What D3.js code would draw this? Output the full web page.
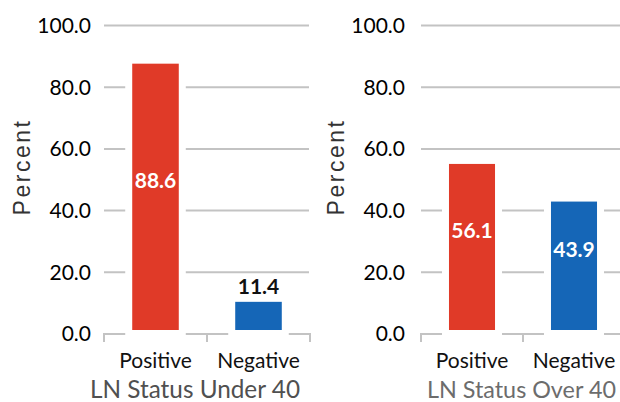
<!DOCTYPE html>
<html>
<head>
<meta charset="utf-8">
<script src="https://cdn.jsdelivr.net/npm/d3@7"></script>
<style>
  html, body { margin: 0; padding: 0; background: #fff; }
  svg { display: block; }
</style>
</head>
<body>
<svg id="chart" width="620" height="402"></svg>
<script>
const categories = ["Positive", "Negative"];
const under40Values = [88.6, 11.4];
const over40Values = [56.1, 43.9];
const tickValues = [0, 20, 40, 60, 80, 100];
const panelTitles = ["LN Status Under 40", "LN Status Over 40"];
const barColors = ["#E03A28", "#1566B7"];
const yLabel = "Percent";

const svg = d3.select("#chart");
const FONT = "Lato, 'Open Sans', sans-serif";

const y = d3.scaleLinear().domain([0, 100]).range([333.5, 25]);

function drawPanel(opts) {
  const g = svg.append("g");
  const x = d3.scaleBand().domain(categories).range(opts.xRange)
    .paddingInner(0.48).paddingOuter(0.24);

  // gridlines
  const grid = d3.axisLeft(y).tickValues(tickValues.filter(t => t > 0))
    .tickSize(-(opts.gridEnd - opts.xRange[0])).tickFormat("");
  g.append("g").attr("transform", `translate(${opts.xRange[0]},0)`).call(grid)
    .call(s => s.select(".domain").remove())
    .call(s => s.selectAll("line").attr("stroke", "#c3c3c3").attr("stroke-width", 2));

  // tick labels
  const yAxis = d3.axisLeft(y).tickValues(tickValues).tickSize(0).tickPadding(0)
    .tickFormat(d3.format(".1f"));
  g.append("g").attr("transform", `translate(${opts.labelRight},0)`).call(yAxis)
    .call(s => s.select(".domain").remove())
    .call(s => s.selectAll("text").attr("font-family", FONT).attr("font-size", 21)
      .attr("fill", "#000").attr("dy", "0.35em"));

  // x axis
  const xAxis = d3.axisBottom(x).tickSize(0).tickFormat(d => d);
  const xg = g.append("g").attr("transform", `translate(0,334)`).call(xAxis);
  xg.select(".domain").attr("stroke", "#c3c3c3").attr("stroke-width", 2)
    .attr("d", `M${opts.xRange[0]},8V0H${opts.axisEnd}V8`);
  xg.selectAll(".tick text").attr("font-family", FONT).attr("font-size", 21)
    .attr("fill", "#111").attr("y", 34).attr("dy", 0);
  // category separator ticks
  const step = x.step();
  const sepTicks = d3.range(opts.xRange[0] + step, opts.axisEnd + 1, step);
  xg.selectAll(".sep").data(sepTicks).join("line")
    .attr("x1", d => d).attr("x2", d => d).attr("y1", 0).attr("y2", 8)
    .attr("stroke", "#c3c3c3").attr("stroke-width", 2);

  // bars
  g.selectAll(".bar").data(opts.values).join("rect")
    .attr("x", (d, i) => x(categories[i]))
    .attr("width", x.bandwidth())
    .attr("y", d => y(d))
    .attr("height", d => y(0) - y(d))
    .attr("fill", (d, i) => barColors[i])
    .attr("stroke", "#fff").attr("stroke-width", 7);

  // value labels
  g.selectAll(".val").data(opts.values).join("text")
    .attr("x", (d, i) => x(categories[i]) + x.bandwidth() / 2)
    .attr("y", d => d > 20 ? y(d / 2) - 16 : y(d) - 4)
    .attr("dy", d => d > 20 ? "0.35em" : "0")
    .attr("text-anchor", "middle")
    .attr("font-family", FONT).attr("font-weight", "bold").attr("font-size", 21)
    .attr("fill", d => d > 20 ? "#fff" : "#111")
    .text(d => d3.format(".1f")(d));

  // y label
  g.append("text")
    .attr("transform", `translate(${opts.yLabelX},167) rotate(-90)`)
    .attr("text-anchor", "middle")
    .attr("font-family", "'Liberation Sans', Arial, sans-serif")
    .attr("font-size", 23).attr("letter-spacing", 2.5).attr("fill", "#333")
    .text(yLabel);

  // panel title
  g.append("text")
    .attr("x", opts.titleX).attr("y", 398)
    .attr("font-family", FONT).attr("font-size", opts.titleSize)
    .attr("textLength", opts.titleWidth).attr("lengthAdjust", "spacingAndGlyphs")
    .attr("fill", opts.titleColor)
    .text(opts.title);
}

drawPanel({
  values: under40Values, xRange: [104, 310], gridEnd: 309, axisEnd: 310,
  labelRight: 91, yLabelX: 30, titleX: 90, titleWidth: 210, titleSize: 24.5,
  title: panelTitles[0], titleColor: "#505050"
});
drawPanel({
  values: over40Values, xRange: [421, 625], gridEnd: 620, axisEnd: 625,
  labelRight: 405, yLabelX: 344, titleX: 427, titleWidth: 189, titleSize: 23.5,
  title: panelTitles[1], titleColor: "#6c6c6c"
});
</script>
</body>
</html>
